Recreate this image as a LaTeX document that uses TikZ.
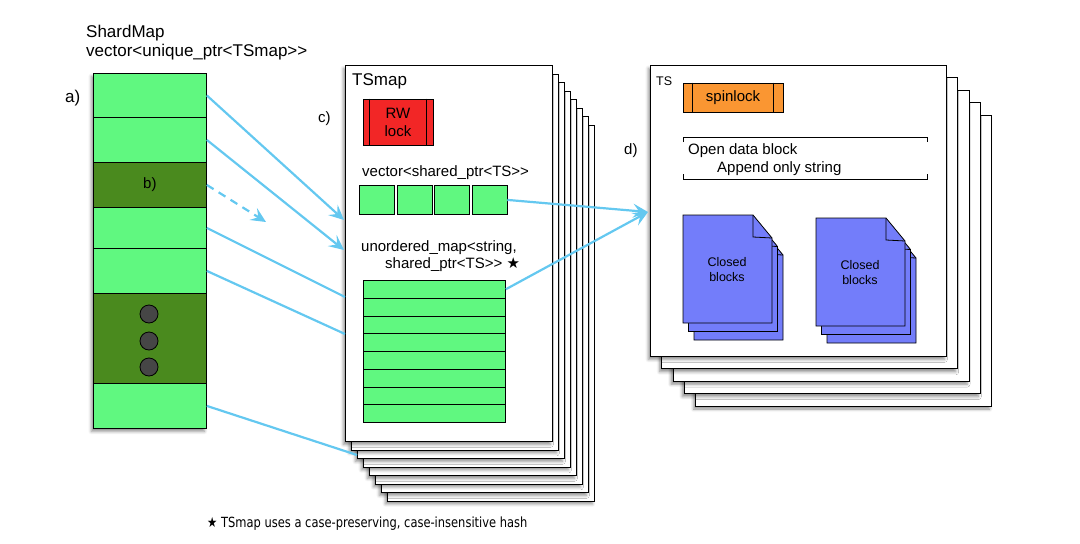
\documentclass[tikz,border=0pt]{standalone}
\usepackage{fontspec}
\setmainfont{Liberation Sans}
\newfontfamily\notefont{DejaVu Sans}
\usetikzlibrary{arrows.meta,shadows.blur}
\definecolor{cellgreen}{RGB}{96,248,128}
\definecolor{darkgreen}{RGB}{74,138,30}
\definecolor{lockred}{RGB}{242,38,38}
\definecolor{spinorange}{RGB}{250,150,50}
\definecolor{docblue}{RGB}{115,125,250}
\definecolor{arrowblue}{RGB}{100,200,240}
\definecolor{dotgray}{RGB}{70,70,70}
\tikzset{
  pics/docsheet/.style={code={
    \draw[fill=docblue, line width=0.8pt] (0,0) -- (70,0) -- (89,23) -- (89,108) -- (0,108) -- cycle;
    \draw[line width=0.8pt] (70,0) -- (70,22) -- (89,23);
  }}
}

\begin{document}
\begin{tikzpicture}[x=1pt, y=-1pt,
  every node/.style={font=\fontsize{15}{18}\selectfont, inner sep=0pt},
  big/.style={font=\fontsize{17}{20}\selectfont},
  small/.style={font=\fontsize{12.5}{15}\selectfont},
  txt/.style={anchor=base west},
  soft/.style={blur shadow={shadow xshift=-2pt, shadow yshift=-3pt, shadow blur radius=3pt, shadow opacity=45}},
  page/.style={draw, fill=white, line width=0.8pt, anchor=north west, soft},
  cell/.style={draw, fill=cellgreen, line width=0.8pt, anchor=north west},
  shardcell/.style={cell, minimum width=113},
  darkcell/.style={shardcell, fill=darkgreen},
  dot/.style={circle, draw, fill=dotgray, line width=0.8pt, minimum size=18},
  lockbox/.style={draw, line width=0.8pt, align=center},
  ptr/.style={draw=arrowblue, line width=2.2pt},
  tip/.style={-{Stealth[length=15pt, width=14pt, inset=6pt]}}]
\useasboundingbox (0,0) rectangle (1080,544);

\node[big, txt] (shardname) at (86,37) {ShardMap};
\node[big, txt] (shardtype) at (86,56) {vector<unique\_ptr<TSmap>{}>};
\node[big, txt] (alabel) at (65,102) {a)};
\node[shardcell, soft, minimum height=355] (shardcol) at (93,73) {};
\foreach \n/\t/\h/\s in {1/73/44/shardcell,2/117/45/shardcell,3/162/45/darkcell,4/207/41/shardcell,5/248/45/shardcell,6/293/90/darkcell,7/383/45/shardcell}
  \node[\s, minimum height=\h] (shard\n) at (93,\t) {};
\node (blabel) at (shard3.center) {b)};
\foreach \y in {314,341,367}
  \node[dot] (dot\y) at (149,\y) {};

\foreach \i in {7,...,1}
  \node[page, minimum width=207, minimum height=376] (tsmap\i) at ({345+6*\i},{65+8.5*\i}) {};
\node[page, minimum width=207, minimum height=376] (tsmap) at (345,65) {};
\node[big, txt] (tsmaplabel) at (352,85) {TSmap};
\node[txt] (clabel) at (318,122) {c)};
\node[lockbox, fill=lockred, minimum width=70, minimum height=46] (rwlock) at (398,122) {RW\\lock};
\draw[line width=0.8pt] ([xshift=7pt]rwlock.north west) -- ([xshift=7pt]rwlock.south west);
\draw[line width=0.8pt] ([xshift=-7pt]rwlock.north east) -- ([xshift=-7pt]rwlock.south east);
\node[txt] (vectype) at (362,176) {vector<shared\_ptr<TS>{}>};
\foreach \i in {0,...,3}
  \node[cell, minimum width=35, minimum height=29] (vec\i) at ({359+37.5*\i},185) {};
\node[txt] (maptype) at (361,251) {unordered\_map<string,};
\node[txt] (maptype2) at (385,268) {shared\_ptr<TS>{}> {\notefont ★}};
\foreach \i in {0,...,7}
  \node[cell, minimum width=142, minimum height=17.75] (hash\i) at (363,{280+17.75*\i}) {};

\foreach \i in {4,...,1}
  \node[page, minimum width=296, minimum height=291] (ts\i) at ({650+11.3*\i},{65+12.4*\i}) {};
\node[page, minimum width=296, minimum height=291] (ts) at (650,65) {};
\node[small, txt] (tslabel) at (656,85) {TS};
\node[txt] (dlabel) at (624,154) {d)};
\node[lockbox, fill=spinorange, minimum width=100, minimum height=29] (spinlock) at (733,97.5) {spinlock};
\draw[line width=0.8pt] ([xshift=10pt]spinlock.north west) -- ([xshift=10pt]spinlock.south west);
\draw[line width=0.8pt] ([xshift=-10pt]spinlock.north east) -- ([xshift=-10pt]spinlock.south east);
\draw[line width=0.8pt] (683,142) -- (683,137) -- (927,137) -- (927,142);
\draw[line width=0.8pt] (683,174) -- (683,179) -- (927,179) -- (927,174);
\node[txt] (openblock) at (688,154) {Open data block};
\node[txt] (appendonly) at (717,172) {Append only string};
\foreach \i in {2,1}
  \pic at ({683+5.5*\i},{215+8.5*\i}) {docsheet};
\pic at (683,215) {docsheet};
\node[small, align=center] (closed1) at (727,270) {Closed\\blocks};
\foreach \i in {2,1}
  \pic at ({816+5.5*\i},{218+8.5*\i}) {docsheet};
\pic at (816,218) {docsheet};
\node[small, align=center] (closed2) at (860,273) {Closed\\blocks};

\node[txt, font=\notefont\fontsize{14}{17}\selectfont] (footnote) at (207,527) {\scalebox{0.82}[1]{★ TSmap uses a case-preserving, case-insensitive hash}};

\coordinate (in1) at (344,220);
\coordinate (in2) at (344,250);
\coordinate (in3) at (345,297);
\coordinate (in4) at (345,334);
\coordinate (in5) at (357,455);
\coordinate (dashend) at (266,222);
\coordinate (tsin) at (648,212);
\draw[ptr, tip] (shard1.east) -- (in1);
\draw[ptr, tip] (shard2.east) -- (in2);
\draw[ptr, tip, dash pattern=on 8pt off 6pt] (shard3.east) -- (dashend);
\draw[ptr] (shard4.east) -- (in3);
\draw[ptr] (shard5.east) -- (in4);
\draw[ptr] (shard7.east) -- (in5);
\draw[ptr, tip] (vec3.east) -- (tsin);
\draw[ptr, tip] (hash0.east) -- (tsin);
\end{tikzpicture}
\end{document}
